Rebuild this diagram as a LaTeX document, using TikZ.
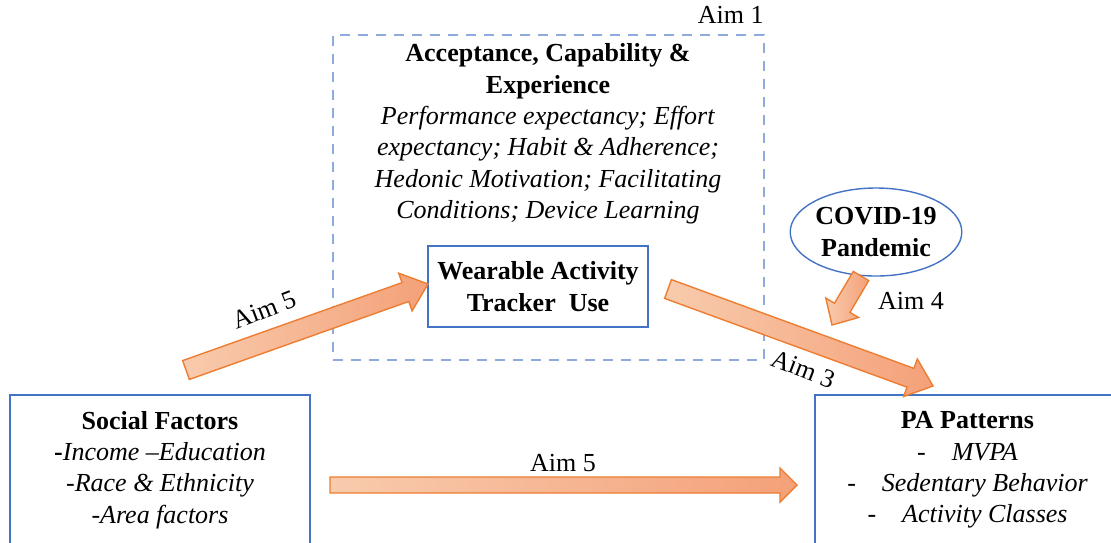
\documentclass[tikz,border=0pt]{standalone}
\usepackage{fontspec}
\setmainfont{Liberation Serif}
\usetikzlibrary{calc,shapes.geometric}
\definecolor{boxblue}{HTML}{4472C4}
\definecolor{dashblue}{HTML}{8FAADC}
\definecolor{aimedge}{HTML}{ED7D31}
\definecolor{aimlight}{HTML}{F8CBAD}
\definecolor{aimdark}{HTML}{F4A179}
\tikzset{
    txt/.style={font=\fontsize{13}{15.7}\selectfont, align=center, inner sep=0pt},
    factorbox/.style={draw=boxblue, line width=0.7pt, rectangle, txt},
    dashbox/.style={draw=dashblue, line width=1pt, dash pattern=on 5pt off 4pt, rectangle, minimum width=215.5pt, minimum height=162.5pt},
    aimarrow/.style={draw=aimedge, line width=0.7pt, left color=aimlight, right color=aimdark},
    aimlabel/.style={txt}
}
% block arrow: from, to, shaft half width, head half width, head length
\newcommand{\blockarrow}[5]{%
    \coordinate (hb) at ($(#2)!#5!(#1)$);
    \path[aimarrow] ($(#1)!#3!90:(#2)$) -- ($(hb)!#3!90:(#2)$) -- ($(hb)!#4!90:(#2)$) -- (#2)
        -- ($(hb)!#4!-90:(#2)$) -- ($(hb)!#3!-90:(#2)$) -- ($(#1)!#3!-90:(#2)$) -- cycle;
}
\begin{document}
\begin{tikzpicture}[x=0.5pt, y=-0.5pt]
    \useasboundingbox (0,0) rectangle (1111,542);

    %(aim 1)
    \node[dashbox] (accbox) at (548.5,197) {};
    \node[aimlabel, anchor=south east] (aim1) at (764,24) {Aim 1};
    \node[txt] (accept) at (548,134) {\textbf{Acceptance, Capability \&}\\\textbf{Experience}\\
        \textit{Performance expectancy; Effort}\\\textit{expectancy; Habit \& Adherence;}\\
        \textit{Hedonic Motivation; Facilitating}\\\textit{Conditions; Device Learning}};
    \node[factorbox, minimum width=110pt, minimum height=40.5pt] (wat) at (538,286.5)
        {\textbf{Wearable Activity}\\\textbf{Tracker\ \ Use}};

    %(covid)
    \node[draw=boxblue, line width=0.7pt, ellipse, minimum width=68pt, minimum height=44pt, txt] (covid) at (876,232)
        {\textbf{COVID-19}\\\textbf{Pandemic}};

    %(social and PA)
    \node[factorbox, minimum width=150pt, minimum height=75pt] (social) at (160,470)
        {\textbf{Social Factors}\\\textbf{-}\textit{Income --Education}\\-\textit{Race \& Ethnicity}\\-\textit{Area factors}};
    \node[factorbox, minimum width=152.5pt, minimum height=75pt] (pa) at (967.5,470)
        {\textbf{PA Patterns}\\-\quad\textit{MVPA}\\-\quad\textit{Sedentary Behavior}\\-\quad\textit{Activity Classes}};

    %(arrows)
    \coordinate (a5s) at (186,370);
    \coordinate (a5e) at (428,284);
    \coordinate (a3s) at (668,289);
    \coordinate (a3e) at (933,386);
    \coordinate (a4s) at (861,276);
    \coordinate (a4e) at (832,325);
    \coordinate (b5s) at (330,485);
    \coordinate (b5e) at (797,485);
    \blockarrow{a5s}{a5e}{5pt}{10pt}{12pt}
    \blockarrow{a3s}{a3e}{5pt}{10pt}{12pt}
    \blockarrow{a4s}{a4e}{4.5pt}{9.5pt}{10pt}
    \blockarrow{b5s}{b5e}{4pt}{8.5pt}{8.5pt}
    \node[aimlabel, rotate=21] (aim5a) at (264,310) {Aim 5};
    \node[aimlabel, rotate=-21] (aim3) at (803,369) {Aim 3};
    \node[aimlabel] (aim4) at (911,301) {Aim 4};
    \node[aimlabel] (aim5b) at (563,463) {Aim 5};
\end{tikzpicture}
\end{document}
